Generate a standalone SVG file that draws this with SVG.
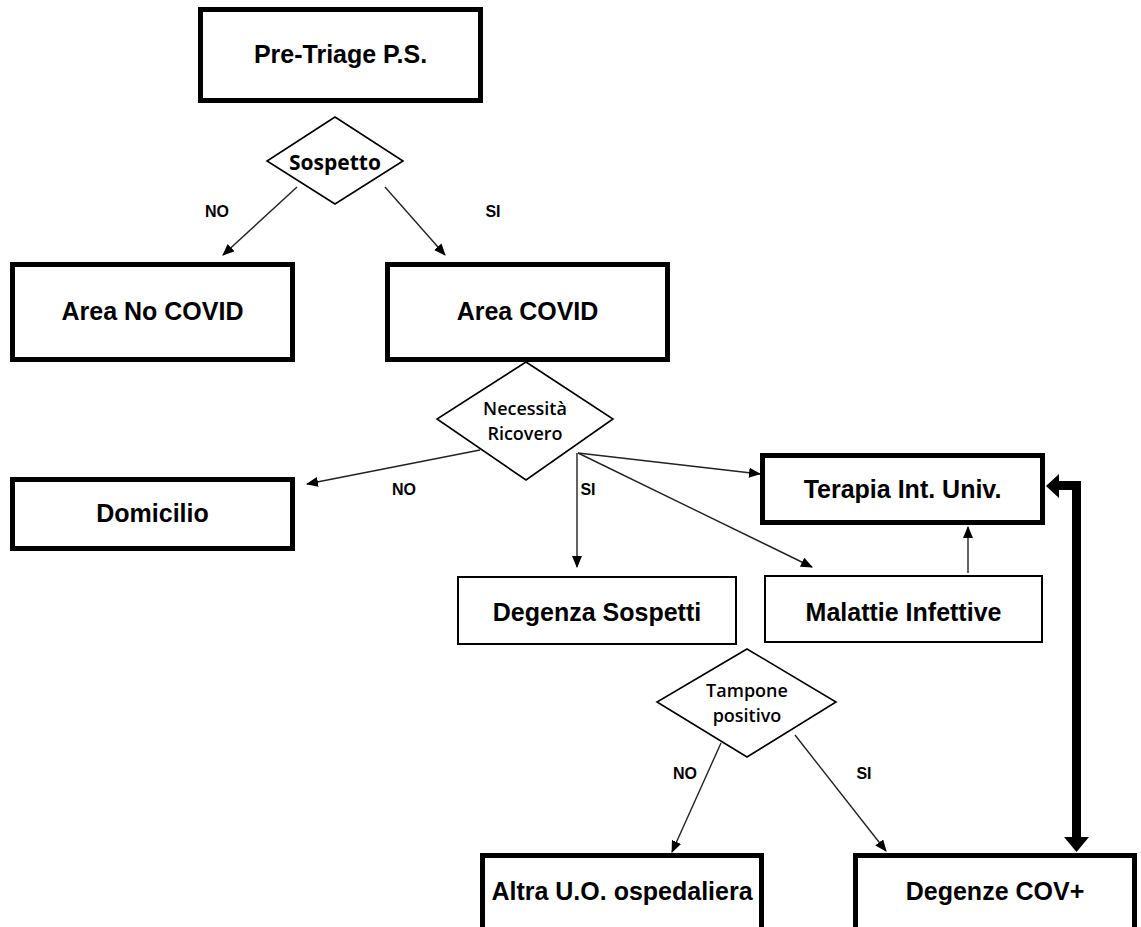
<svg xmlns="http://www.w3.org/2000/svg" width="1141" height="927" viewBox="0 0 1141 927">
<style>
.bx{fill:#fff;stroke:#000;stroke-width:5}
.bt{fill:#fff;stroke:#000;stroke-width:2}
.dm{fill:#fff;stroke:#000;stroke-width:1.6}
.t{font-family:"Liberation Sans",Arial,sans-serif;font-weight:bold;font-size:25px;text-anchor:middle;fill:#000}
.d{font-family:"Open Sans","Noto Sans",sans-serif;font-weight:600;font-size:18px;text-anchor:middle;fill:#000}
.l{font-family:"Liberation Sans",Arial,sans-serif;font-weight:bold;font-size:16px;text-anchor:middle;fill:#000}
.c{fill:none;stroke:#222;stroke-width:1.4}
</style>
<defs>
<marker id="ah" markerUnits="userSpaceOnUse" markerWidth="12" markerHeight="10" refX="11" refY="5" orient="auto">
<path d="M0,0 L12,5 L0,10 Z" fill="#000"/>
</marker>
</defs>
<rect width="1141" height="927" fill="#fff"/>
<g id="connectors">
<line class="c" x1="297" y1="187" x2="223" y2="255" marker-end="url(#ah)"/>
<line class="c" x1="385" y1="187" x2="445" y2="255" marker-end="url(#ah)"/>
<line class="c" x1="480" y1="450" x2="307" y2="484" marker-end="url(#ah)"/>
<line class="c" x1="577" y1="453" x2="577" y2="567" marker-end="url(#ah)"/>
<line class="c" x1="578" y1="453" x2="760" y2="474" marker-end="url(#ah)"/>
<line class="c" x1="578" y1="453" x2="812" y2="567" marker-end="url(#ah)"/>
<line class="c" x1="968" y1="573" x2="968" y2="527" marker-end="url(#ah)"/>
<line class="c" x1="721" y1="743" x2="672" y2="852" marker-end="url(#ah)"/>
<line class="c" x1="795" y1="735" x2="886" y2="851" marker-end="url(#ah)"/>
<path d="M1076.5,840 V485.5 H1056" fill="none" stroke="#000" stroke-width="9"/>
<polygon points="1046,486 1059,474 1059,498" fill="#000"/>
<polygon points="1076.5,852 1064,837 1089,837" fill="#000"/>
<text class="l" x="217" y="217">NO</text>
<text class="l" x="493" y="217">SI</text>
<text class="l" x="404" y="495">NO</text>
<text class="l" x="588" y="495">SI</text>
<text class="l" x="685" y="779">NO</text>
<text class="l" x="864" y="779">SI</text>
</g>
<g id="pretriage">
<rect class="bx" x="200.5" y="9.5" width="280" height="91"/>
<text class="t" x="340.5" y="63">Pre-Triage P.S.</text>
</g>
<g id="sospetto">
<polygon class="dm" points="335,117 403,161 335,204 267,161"/>
<text class="d" x="335" y="170" style="font-size:21px;font-weight:700">Sospetto</text>
</g>
<g id="area-no-covid">
<rect class="bx" x="12.5" y="264.5" width="280" height="95"/>
<text class="t" x="152.5" y="320">Area No COVID</text>
</g>
<g id="area-covid">
<rect class="bx" x="387.5" y="264.5" width="280" height="95"/>
<text class="t" x="527.5" y="320">Area COVID</text>
</g>
<g id="necessita">
<polygon class="dm" points="526,362 613,419 526,480 437,419"/>
<text class="d" x="525" y="415">Necessità</text>
<text class="d" x="525" y="440">Ricovero</text>
</g>
<g id="domicilio">
<rect class="bx" x="12.5" y="479.5" width="280" height="69"/>
<text class="t" x="152.5" y="522">Domicilio</text>
</g>
<g id="terapia">
<rect class="bx" x="762.5" y="455.5" width="280" height="67"/>
<text class="t" x="902.5" y="498">Terapia Int. Univ.</text>
</g>
<g id="degenza-sospetti">
<rect class="bt" x="458" y="577" width="278" height="67"/>
<text class="t" x="597" y="621">Degenza Sospetti</text>
</g>
<g id="malattie">
<rect class="bt" x="765" y="576" width="277" height="66"/>
<text class="t" x="903.5" y="621">Malattie Infettive</text>
</g>
<g id="tampone">
<polygon class="dm" points="747,649 836,702 747,757 657,702"/>
<text class="d" x="747" y="697">Tampone</text>
<text class="d" x="747" y="722">positivo</text>
</g>
<g id="altra">
<rect class="bx" x="482.5" y="855.5" width="279" height="80"/>
<text class="t" x="622" y="900">Altra U.O. ospedaliera</text>
</g>
<g id="degenze-cov">
<rect class="bx" x="855.5" y="855.5" width="279" height="80"/>
<text class="t" x="995" y="900">Degenze COV+</text>
</g>
</svg>
